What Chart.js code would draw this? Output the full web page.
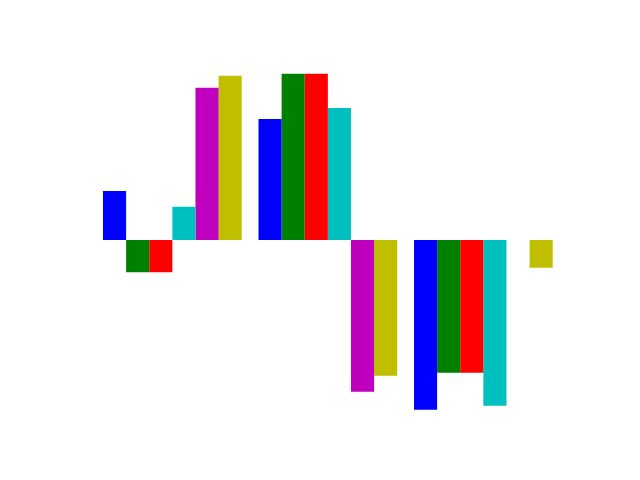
<!DOCTYPE html>
<html>
<head>
<meta charset="utf-8">
<script src="https://cdn.jsdelivr.net/npm/chart.js@4/dist/chart.umd.min.js"></script>
<style>
  html, body { margin: 0; padding: 0; background: #ffffff; }
  #wrap { width: 640px; height: 480px; }
</style>
</head>
<body>
<div id="wrap"><canvas id="c" width="640" height="480"></canvas></div>
<script>
const categories = ["A", "B", "C"];
const seriesNames = ["b", "g", "r", "c", "m", "y"];
const seriesColors = ["#0000ff", "#008000", "#ff0000", "#00bfbf", "#bf00bf", "#bfbf00"];
const blueValues    = [0.49, 1.21, -1.697];
const greenValues   = [-0.323, 1.663, -1.327];
const redValues     = [-0.323, 1.663, -1.327];
const cyanValues    = [0.333, 1.32, -1.657];
const magentaValues = [1.523, -1.517, 0];
const yellowValues  = [1.643, -1.357, -0.277];
const allValues = [blueValues, greenValues, redValues, cyanValues, magentaValues, yellowValues];

const datasets = allValues.map((vals, i) => ({
  label: seriesNames[i],
  data: vals,
  backgroundColor: seriesColors[i],
  borderWidth: 0,
  categoryPercentage: 0.892,
  barPercentage: 1.0
}));

new Chart(document.getElementById('c'), {
  type: 'bar',
  data: { labels: categories, datasets: datasets },
  options: {
    responsive: false,
    animation: false,
    layout: { padding: { left: 94.6, right: 78.9, top: 40, bottom: 40 } },
    plugins: { legend: { display: false }, tooltip: { enabled: false } },
    scales: {
      x: { display: false },
      y: { display: false, min: -2, max: 2 }
    }
  }
});
</script>
</body>
</html>
